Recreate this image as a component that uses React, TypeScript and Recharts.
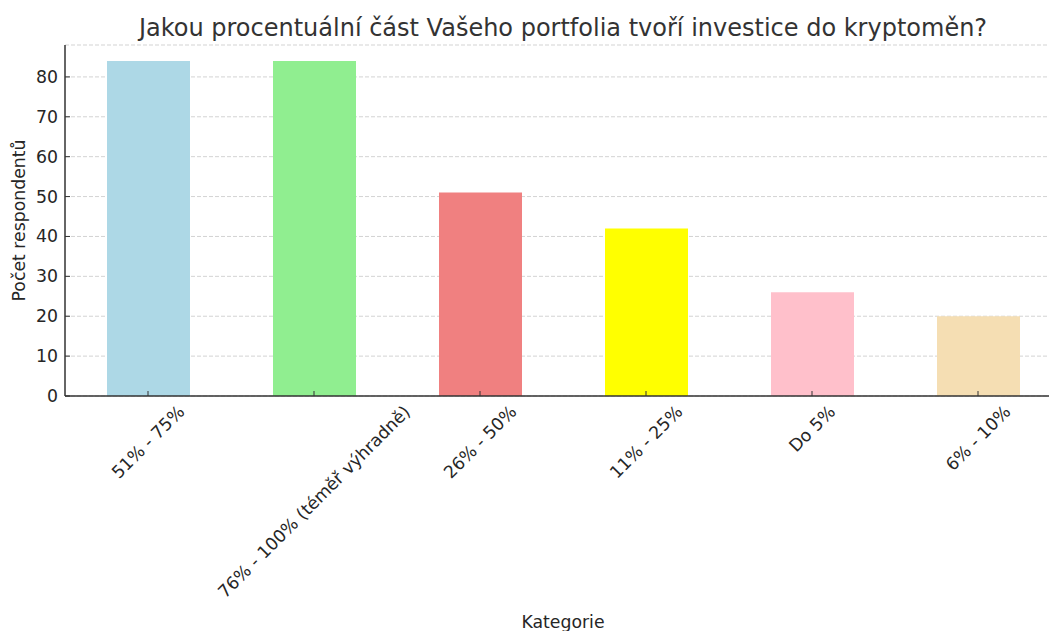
import { BarChart, Bar, XAxis, YAxis, CartesianGrid, Cell, Label } from "recharts";

const categories = [
  "51% - 75%",
  "76% - 100% (téměř výhradně)",
  "26% - 50%",
  "11% - 25%",
  "Do 5%",
  "6% - 10%",
];
const counts = [84, 84, 51, 42, 26, 20];
const colors = ["#add8e6", "#90ee90", "#f08080", "#ffff00", "#ffc0cb", "#f5deb3"];
const yTicks = [0, 10, 20, 30, 40, 50, 60, 70, 80];

const FONT = "DejaVu Sans, sans-serif";
const TICK_SIZE = 17.3;
const AXIS_X = 65;
const AXIS_Y = 396;

let ctx: CanvasRenderingContext2D | null = null;
function textWidth(s: string) {
  if (!ctx) ctx = document.createElement("canvas").getContext("2d");
  if (!ctx) return s.length * TICK_SIZE * 0.6;
  ctx.font = `${TICK_SIZE}px "DejaVu Sans"`;
  return ctx.measureText(s).width;
}

// rotated 45°, centred under the tick like matplotlib's ha="center"
function RotatedTick(props: any) {
  const { x, payload } = props;
  const w = textWidth(String(payload.value));
  const h = (w + TICK_SIZE * 1.1) * Math.SQRT1_2;
  const cy = AXIS_Y + 6 + h / 2;
  return (
    <g>
      <line x1={x} x2={x} y1={AXIS_Y} y2={AXIS_Y - 5} stroke="#333" />
      <g transform={`translate(${x},${cy}) rotate(-45)`}>
        <text
          x={0}
          y={0}
          textAnchor="middle"
          dominantBaseline="central"
          fontSize={TICK_SIZE}
          fontFamily={FONT}
          fill="#262626"
        >
          {payload.value}
        </text>
      </g>
    </g>
  );
}

function YTick(props: any) {
  const { y, payload } = props;
  return (
    <g>
      <line x1={AXIS_X} x2={AXIS_X + 5} y1={y} y2={y} stroke="#333" />
      <text
        x={AXIS_X - 7}
        y={y}
        textAnchor="end"
        dominantBaseline="central"
        fontSize={TICK_SIZE}
        fontFamily={FONT}
        fill="#262626"
      >
        {payload.value}
      </text>
    </g>
  );
}

export default function App() {
  const data = categories.map((c, i) => ({ name: c, value: counts[i] }));

  return (
    <div
      style={{
        position: "absolute",
        left: 0,
        top: 0,
        width: 1049,
        height: 631,
        overflow: "hidden",
        background: "#fff",
      }}
    >
      <div style={{ position: "absolute", left: 0, top: 0 }}>
        <BarChart
          width={1062}
          height={631}
          data={data}
          margin={{ top: 45, right: 1, left: 10, bottom: 0 }}
          barSize={83}
        >
          <CartesianGrid vertical={false} strokeDasharray="4 2" stroke="#d3d3d3" />
          <XAxis
            dataKey="name"
            height={235}
            interval={0}
            tick={<RotatedTick />}
            tickLine={false}
            axisLine={{ stroke: "#333", strokeWidth: 1.5 }}
          >
            <Label
              value="Kategorie"
              position="insideBottom"
              offset={3}
              fontSize={17.3}
              fontFamily={FONT}
              fill="#262626"
            />
          </XAxis>
          <YAxis
            width={55}
            domain={[0, 88]}
            ticks={yTicks}
            tick={<YTick />}
            tickLine={false}
            axisLine={{ stroke: "#333", strokeWidth: 1.5 }}
          >
            <Label
              value="Počet respondentů"
              angle={-90}
              position="insideLeft"
              offset={9}
              style={{ textAnchor: "middle" }}
              fontSize={17.3}
              fontFamily={FONT}
              fill="#262626"
            />
          </YAxis>
          <Bar dataKey="value" isAnimationActive={false}>
            {data.map((d, i) => (
              <Cell key={d.name} fill={colors[i]} />
            ))}
          </Bar>
        </BarChart>
      </div>
      <svg width={1049} height={45} style={{ position: "absolute", left: 0, top: 0 }}>
        <text x={563} y={36} textAnchor="middle" fontSize={24} fontFamily={FONT} fill="#333">
          Jakou procentuální část Vašeho portfolia tvoří investice do kryptoměn?
        </text>
      </svg>
    </div>
  );
}
